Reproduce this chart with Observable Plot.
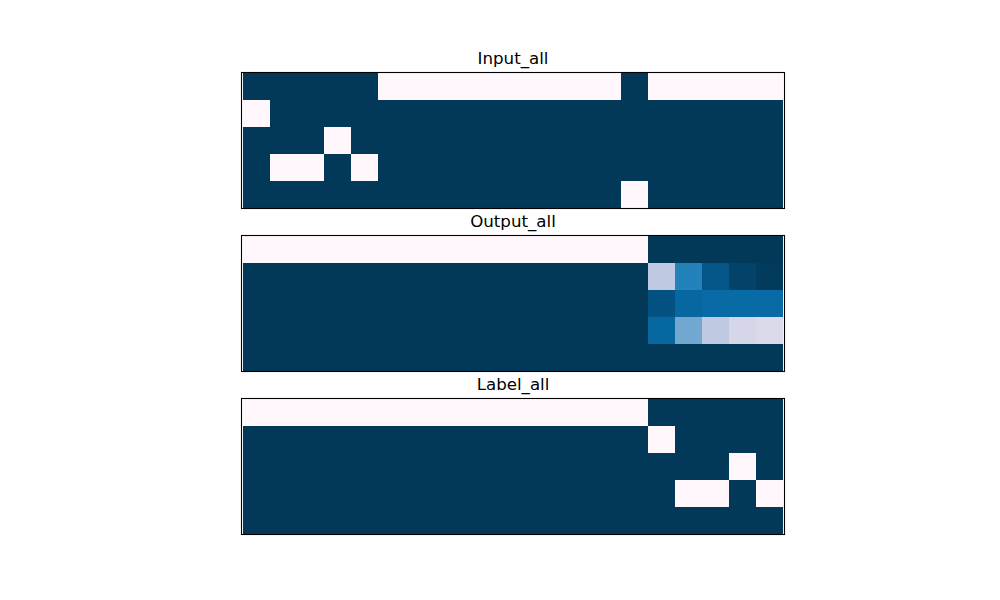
<!DOCTYPE html>
<html>
<head>
<meta charset="utf-8">
<script src="https://cdn.jsdelivr.net/npm/d3@7"></script>
<script src="https://cdn.jsdelivr.net/npm/@observablehq/plot@0.6"></script>
<style>
  html, body { margin: 0; padding: 0; background: white; }
  #chart { width: 1000px; height: 600px; }
</style>
</head>
<body>
<div id="chart"></div>
<script>
// Panel titles
const panels = ["Input_all", "Output_all", "Label_all"];
// Column and row categories
const columns = d3.range(20);
const rows = d3.range(5);

// Input_all matrix (5 rows x 20 columns)
const inputAll = [
  [0,0,0,0,0,1,1,1,1,1,1,1,1,1,0,1,1,1,1,1],
  [1,0,0,0,0,0,0,0,0,0,0,0,0,0,0,0,0,0,0,0],
  [0,0,0,1,0,0,0,0,0,0,0,0,0,0,0,0,0,0,0,0],
  [0,1,1,0,1,0,0,0,0,0,0,0,0,0,0,0,0,0,0,0],
  [0,0,0,0,0,0,0,0,0,0,0,0,0,0,1,0,0,0,0,0]
];

// Output_all matrix (5 rows x 20 columns)
const outputAll = [
  [1,1,1,1,1,1,1,1,1,1,1,1,1,1,1,0,0,0,0,0],
  [0,0,0,0,0,0,0,0,0,0,0,0,0,0,0,0.70,0.32,0.12,0.04,0.01],
  [0,0,0,0,0,0,0,0,0,0,0,0,0,0,0,0.10,0.20,0.22,0.22,0.22],
  [0,0,0,0,0,0,0,0,0,0,0,0,0,0,0,0.20,0.50,0.70,0.78,0.80],
  [0,0,0,0,0,0,0,0,0,0,0,0,0,0,0,0,0,0,0,0]
];

// Label_all matrix (5 rows x 20 columns)
const labelAll = [
  [1,1,1,1,1,1,1,1,1,1,1,1,1,1,1,0,0,0,0,0],
  [0,0,0,0,0,0,0,0,0,0,0,0,0,0,0,1,0,0,0,0],
  [0,0,0,0,0,0,0,0,0,0,0,0,0,0,0,0,0,0,1,0],
  [0,0,0,0,0,0,0,0,0,0,0,0,0,0,0,0,1,1,0,1],
  [0,0,0,0,0,0,0,0,0,0,0,0,0,0,0,0,0,0,0,0]
];

const matrices = [inputAll, outputAll, labelAll];
const data = panels.flatMap((p, k) =>
  matrices[k].flatMap((row, r) => row.map((v, c) => ({panel: p, row: r, col: c, v})))
);

const chart = Plot.plot({
  width: 1000,
  height: 600,
  marginLeft: 241,
  marginRight: 216,
  marginTop: 72,
  marginBottom: 66,
  style: {fontFamily: "DejaVu Sans", background: "white"},
  x: {type: "band", domain: columns, axis: null, padding: 0},
  y: {type: "band", domain: rows, axis: null, padding: 0},
  fy: {domain: panels, axis: null, paddingInner: 27 / 163, paddingOuter: 0},
  color: {type: "linear", scheme: "pubu", reverse: true, domain: [0, 1]},
  marks: [
    Plot.cell(data, {x: "col", y: "row", fy: "panel", fill: "v", inset: 0, shapeRendering: "crispEdges"}),
    Plot.frame({stroke: "black", strokeWidth: 1.1}),
    Plot.text(panels, {fy: d => d, text: d => d, frameAnchor: "top", lineAnchor: "bottom", dy: -9, fontSize: 16.67, fill: "black"})
  ]
});
document.getElementById("chart").appendChild(chart);
</script>
</body>
</html>
